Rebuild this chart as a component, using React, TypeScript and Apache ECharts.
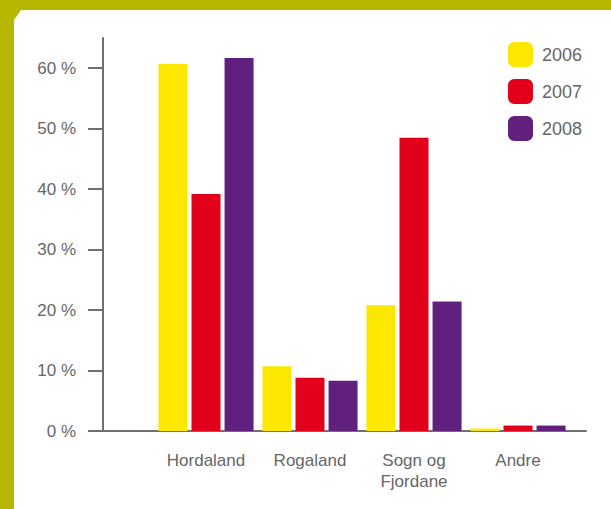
import React, { useEffect, useRef } from "react";
import * as echarts from "echarts";

const categories = ["Hordaland", "Rogaland", "Sogn og\nFjordane", "Andre"];
const seriesNames = ["2006", "2007", "2008"];
const values2006 = [60.7, 10.7, 20.8, 0.4];
const values2007 = [39.2, 8.8, 48.5, 0.9];
const values2008 = [61.7, 8.3, 21.4, 0.9];
const yTicks = [0, 10, 20, 30, 40, 50, 60];
const colors = ["#FCE700", "#E2001A", "#62207E"];

const axisColor = "#707070";
const textColor = "#666666";
const fontFamily = "'Liberation Sans', Arial, sans-serif";

export default function App() {
  const ref = useRef<HTMLDivElement>(null);

  useEffect(() => {
    if (!ref.current) return;
    const chart = echarts.init(ref.current, undefined, { renderer: "svg" });
    const seriesData = [values2006, values2007, values2008];
    chart.setOption({
      animation: false,
      backgroundColor: "transparent",
      textStyle: { fontFamily },
      grid: [
        { left: 103, top: 38, width: 483, height: 393 },
        { left: 154, top: 38, width: 416, height: 393 },
      ],
      legend: {
        data: seriesNames,
        orient: "vertical",
        left: 503,
        top: 37,
        itemWidth: 25,
        itemHeight: 25,
        itemGap: 12,
        icon: "roundRect",
        textStyle: {
          fontSize: 18,
          color: textColor,
          fontFamily,
          padding: [0, 0, 0, 4],
        },
      },
      xAxis: [
        {
          gridIndex: 0,
          type: "category",
          data: categories,
          axisLine: { show: true, lineStyle: { color: axisColor, width: 2 } },
          axisTick: { show: false },
          axisLabel: { show: false },
          splitLine: { show: false },
        },
        {
          gridIndex: 1,
          type: "category",
          data: categories,
          axisLine: { show: false },
          axisTick: { show: false },
          axisLabel: {
            show: true,
            color: textColor,
            fontSize: 17,
            lineHeight: 21,
            margin: 19,
            fontFamily,
            interval: 0,
          },
          splitLine: { show: false },
        },
      ],
      yAxis: [
        {
          gridIndex: 0,
          type: "value",
          min: 0,
          max: 65,
          axisLine: { show: true, lineStyle: { color: axisColor, width: 2 } },
          axisTick: {
            show: true,
            length: 15,
            lineStyle: { color: axisColor, width: 2 },
            customValues: yTicks,
          },
          axisLabel: {
            show: true,
            color: textColor,
            fontSize: 17,
            margin: 27,
            fontFamily,
            customValues: yTicks,
            formatter: (v: number) => (v % 10 === 0 ? `${v} %` : ""),
          },
          splitLine: { show: false },
        },
        {
          gridIndex: 1,
          type: "value",
          min: 0,
          max: 65,
          show: false,
          splitLine: { show: false },
        },
      ],
      series: seriesNames.map((name, i) => ({
        name,
        type: "bar",
        xAxisIndex: 1,
        yAxisIndex: 1,
        data: seriesData[i],
        barWidth: 29,
        barGap: "14%",
        itemStyle: { color: colors[i] },
      })),
    });
    return () => chart.dispose();
  }, []);

  return (
    <div
      style={{
        position: "fixed",
        left: 0,
        top: 0,
        width: 611,
        height: 509,
        background: "#b5b701",
        overflow: "hidden",
      }}
    >
      <div
        style={{
          position: "absolute",
          left: 0,
          top: 0,
          width: 611,
          height: 509,
          background: "#ffffff",
          clipPath: "polygon(14px 20px, 21px 10px, 611px 10px, 611px 509px, 14px 509px)",
        }}
      />
      <div
        ref={ref}
        style={{ position: "absolute", left: 0, top: 0, width: 611, height: 509 }}
      />
    </div>
  );
}
